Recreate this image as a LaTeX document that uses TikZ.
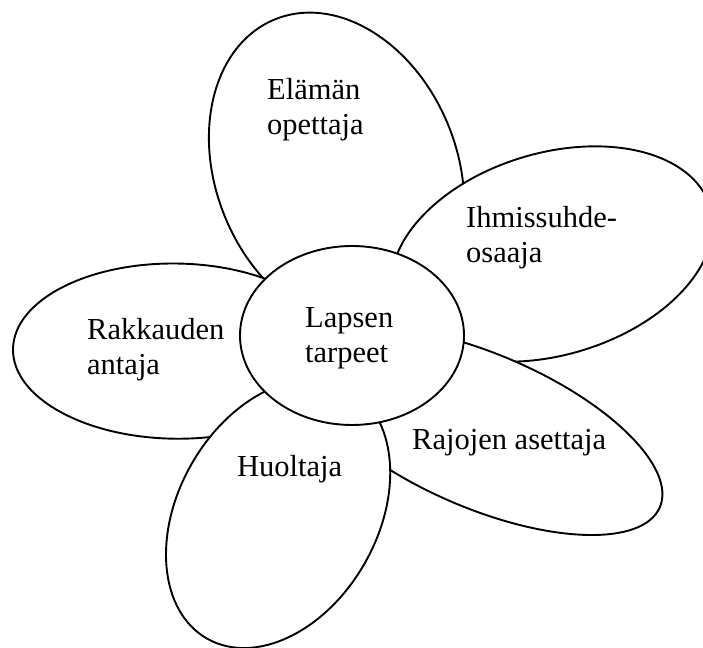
\documentclass[tikz,border=0pt]{standalone}
\usepackage{fontspec}
\setmainfont{Liberation Serif}
\begin{document}
\begin{tikzpicture}[x=1pt,y=1pt,
  petal/.style={draw=black, fill=white, line width=1.9pt},
  lbl/.style={inner sep=0pt, font=\fontsize{30.5}{35}\selectfont, anchor=base west}]
\useasboundingbox (0,0) rectangle (703,647);
\clip (0,0) rectangle (703,647);
\fill[white] (0,0) rectangle (703,647);
% petal centres
\coordinate (cE) at (336.5,476.2);
\coordinate (cK) at (175.6,295.9);
\coordinate (cI) at (552,393);
\coordinate (cJ) at (482,216);
\coordinate (cH) at (278.1,133.3);
\coordinate (cC) at (352,311.5);
% petals, back to front
\draw[petal, rotate around={112.1:(cE)}] (cE) ellipse [x radius=163.5pt, y radius=120.7pt];
\draw[petal, rotate around={-0.7:(cK)}] (cK) ellipse [x radius=162.6pt, y radius=87.6pt];
\draw[petal, rotate around={16.6:(cI)}] (cI) ellipse [x radius=165pt, y radius=101pt];
\draw[petal, rotate around={-23.2:(cJ)}] (cJ) ellipse [x radius=193.5pt, y radius=77pt];
\draw[petal, rotate around={60.4:(cH)}] (cH) ellipse [x radius=143.7pt, y radius=99.8pt];
% centre
\draw[petal] (cC) ellipse [x radius=112pt, y radius=89.5pt];
% labels
\node[lbl] (tE) at (267,547) {\begin{tabular}[t]{@{}l@{}}Elämän\\opettaja\end{tabular}};
\node[lbl] (tI) at (466,419) {\begin{tabular}[t]{@{}l@{}}Ihmissuhde-\\osaaja\end{tabular}};
\node[lbl] (tR) at (87,307) {\begin{tabular}[t]{@{}l@{}}Rakkauden\\antaja\end{tabular}};
\node[lbl] (tL) at (305,319) {\begin{tabular}[t]{@{}l@{}}Lapsen\\tarpeet\end{tabular}};
\node[lbl] (tJ) at (412,197) {Rajojen asettaja};
\node[lbl] (tH) at (237,170.3) {Huoltaja};
\end{tikzpicture}
\end{document}
